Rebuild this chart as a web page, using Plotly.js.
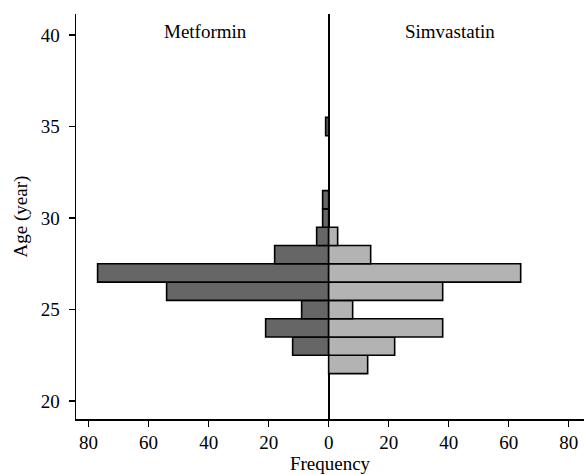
<!DOCTYPE html>
<html>
<head>
<meta charset="utf-8">
<script src="https://cdn.plot.ly/plotly-3.0.1.min.js"></script>
<style>html,body{margin:0;padding:0;background:#fff;}#chart{width:584px;height:475px;}</style>
</head>
<body>
<div id="chart"></div>
<script>
const metAges = [23, 24, 25, 26, 27, 28, 29, 30, 31, 35];
const metCounts = [12, 21, 9, 54, 77, 18, 4, 2, 2, 1];
const simAges = [22, 23, 24, 25, 26, 27, 28, 29];
const simCounts = [13, 22, 38, 8, 38, 64, 14, 3];
const xTickVals = [-80, -60, -40, -20, 0, 20, 40, 60, 80];
const xTickText = ['80', '60', '40', '20', '0', '20', '40', '60', '80'];
const yTickVals = [20, 25, 30, 35, 40];
const groupLabels = ['Metformin', 'Simvastatin'];

const fam = '"Liberation Serif", "Times New Roman", serif';
const font = {family: fam, size: 19, color: '#000'};

const traces = [
  {
    type: 'bar', orientation: 'h', name: groupLabels[0],
    y: metAges, x: metCounts.map(v => -v), width: 1,
    marker: {color: '#666666', line: {color: '#000', width: 1.6}},
    hoverinfo: 'skip'
  },
  {
    type: 'bar', orientation: 'h', name: groupLabels[1],
    y: simAges, x: simCounts, width: 1,
    marker: {color: '#b3b3b3', line: {color: '#000', width: 1.6}},
    hoverinfo: 'skip'
  }
];

const layout = {
  width: 584, height: 475,
  margin: {l: 76, r: 0, t: 14, b: 56, pad: 0},
  paper_bgcolor: '#fff', plot_bgcolor: '#fff',
  showlegend: false,
  barmode: 'overlay',
  font: font,
  xaxis: {
    range: [-84.2, 85.1],
    tickmode: 'array', tickvals: xTickVals, ticktext: xTickText,
    ticks: 'outside', ticklen: 6, tickwidth: 1.5, tickcolor: '#000',
    showline: true, linecolor: '#000', linewidth: 1.5,
    showgrid: false,
    zeroline: true, zerolinecolor: '#000', zerolinewidth: 2,
    title: {text: 'Frequency', font: font, standoff: 2},
    tickfont: font
  },
  yaxis: {
    range: [19.02, 41.15],
    tickmode: 'array', tickvals: yTickVals,
    ticks: 'outside', ticklen: 6, tickwidth: 1.5, tickcolor: '#000',
    ticklabelstandoff: 5,
    showline: true, linecolor: '#000', linewidth: 1.5,
    showgrid: false, zeroline: false,
    title: {text: 'Age (year)', font: font, standoff: 8},
    tickfont: font
  },
  annotations: [
    {x: -41, y: 40.2, xref: 'x', yref: 'y', text: groupLabels[0], showarrow: false, font: font, xanchor: 'center', yanchor: 'middle'},
    {x: 40.3, y: 40.2, xref: 'x', yref: 'y', text: groupLabels[1], showarrow: false, font: font, xanchor: 'center', yanchor: 'middle'}
  ]
};

Plotly.newPlot('chart', traces, layout, {displayModeBar: false, staticPlot: true});
</script>
</body>
</html>
